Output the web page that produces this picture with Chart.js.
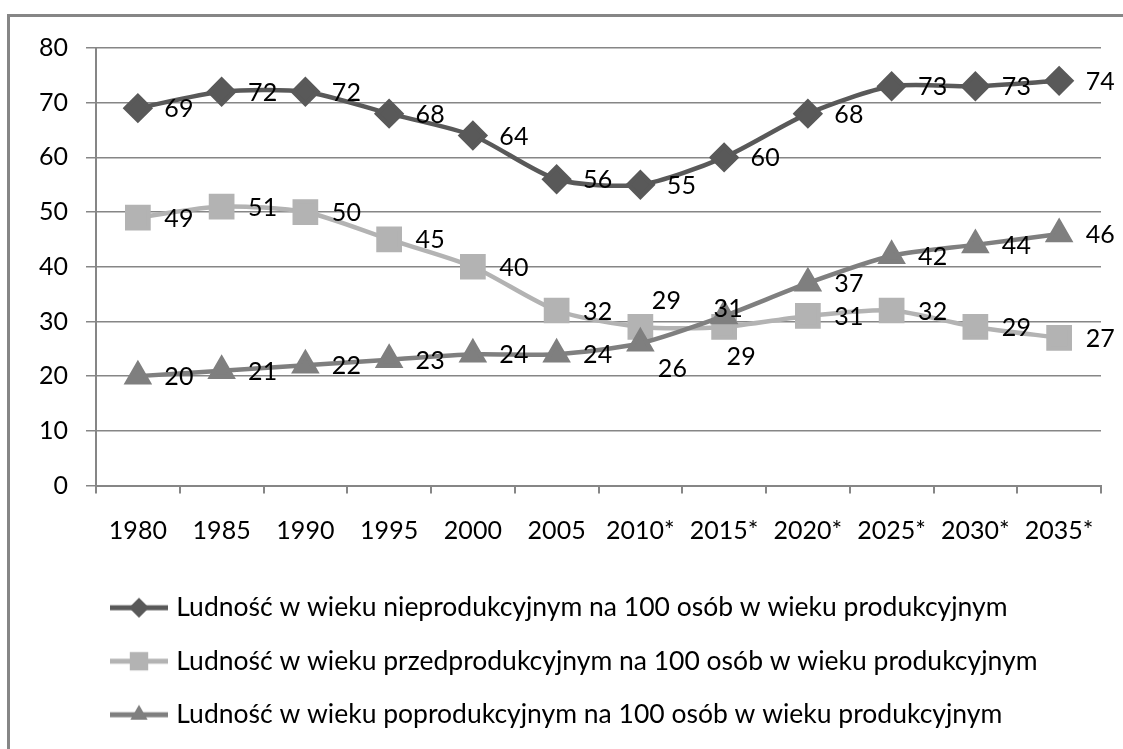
<!DOCTYPE html>
<html lang="pl">
<head>
<meta charset="utf-8">
<title>Ludność w wieku nieprodukcyjnym</title>
<script src="https://cdn.jsdelivr.net/npm/chart.js@4.4.1/dist/chart.umd.min.js"></script>
<style>
  html, body { margin: 0; padding: 0; background: #fff; }
  #wrap { position: relative; width: 1123px; height: 749px; overflow: hidden; }
  #ramka { position: absolute; left: 7px; top: 14px; width: 1200px; height: 800px; border: 3px solid #868686; box-sizing: border-box; }
  #wykres { position: absolute; left: 0; top: 0; }
</style>
</head>
<body>
<div id="wrap">
  <div id="ramka"></div>
  <canvas id="wykres" width="1123" height="749"></canvas>
</div>
<script>
// Dane
const lata = ['1980', '1985', '1990', '1995', '2000', '2005', '2010*', '2015*', '2020*', '2025*', '2030*', '2035*'];
const nieprodukcyjny = [69, 72, 72, 68, 64, 56, 55, 60, 68, 73, 73, 74];
const przedprodukcyjny = [49, 51, 50, 45, 40, 32, 29, 29, 31, 32, 29, 27];
const poprodukcyjny = [20, 21, 22, 23, 24, 24, 26, 31, 37, 42, 44, 46];
const etykietyY = [0, 10, 20, 30, 40, 50, 60, 70, 80];

const nazwy = [
  'Ludność w wieku nieprodukcyjnym na 100 osób w wieku produkcyjnym',
  'Ludność w wieku przedprodukcyjnym na 100 osób w wieku produkcyjnym',
  'Ludność w wieku poprodukcyjnym na 100 osób w wieku produkcyjnym'
];

const CZCIONKA = 'Lato';
const SZARY = '#868686';

/**
 * Mała ikonka do legendy: linia z markerem pośrodku.
 */
const ikonaLegendy = (kolor, styl, promien) => {
  const c = document.createElement('canvas');
  c.width = 58;
  c.height = 26;
  const g = c.getContext('2d');
  g.strokeStyle = kolor;
  g.lineWidth = 5;
  g.beginPath();
  g.moveTo(0, 13);
  g.lineTo(58, 13);
  g.stroke();
  g.fillStyle = kolor;
  Chart.helpers.drawPoint(g, { pointStyle: styl, radius: promien, borderWidth: 0, rotation: 0 }, 29, 13);
  return c;
};

// Podpisy wartości obok punktów
const etykietyPunktow = {
  id: 'etykietyPunktow',
  afterDatasetsDraw(chart, args, opts) {
    const ctx = chart.ctx;
    ctx.save();
    ctx.font = `25px ${CZCIONKA}`;
    ctx.fillStyle = '#000';
    ctx.textAlign = 'center';
    ctx.textBaseline = 'middle';
    chart.data.datasets.forEach((ds, i) => {
      chart.getDatasetMeta(i).data.forEach((pt, j) => {
        const [dx, dy] = opts.wyjatki[i + ':' + j] || opts.domyslne;
        ctx.fillText(String(ds.data[j]), pt.x + dx, pt.y + dy);
      });
    });
    ctx.restore();
  }
};

// Legenda wyrównana do lewej, jak w oryginale
const przesunLegende = {
  id: 'przesunLegende',
  afterLayout(chart, args, opts) {
    if (chart.legend) chart.legend.left = opts.lewo;
  }
};

Chart.defaults.font.family = CZCIONKA;
Chart.defaults.font.size = 25;
Chart.defaults.color = '#000';

const ctx = document.getElementById('wykres').getContext('2d');

const wykres = new Chart(ctx, {
  type: 'line',
  data: {
    labels: lata,
    datasets: [
      {
        label: nazwy[0],
        data: nieprodukcyjny,
        borderColor: '#595959',
        backgroundColor: '#595959',
        borderWidth: 4.5,
        pointStyle: 'rectRot',
        pointRadius: 12,
        pointHoverRadius: 12,
        tension: 0.25,
        order: 3
      },
      {
        label: nazwy[1],
        data: przedprodukcyjny,
        borderColor: '#b3b3b3',
        backgroundColor: '#b3b3b3',
        borderWidth: 4.5,
        pointStyle: 'rect',
        pointRadius: 15,
        pointHoverRadius: 15,
        tension: 0.25,
        order: 2
      },
      {
        label: nazwy[2],
        data: poprodukcyjny,
        borderColor: '#7f7f7f',
        backgroundColor: '#7f7f7f',
        borderWidth: 4.5,
        pointStyle: 'triangle',
        pointRadius: 12,
        pointHoverRadius: 12,
        tension: 0.25,
        order: 1
      }
    ]
  },
  options: {
    responsive: false,
    animation: false,
    layout: {
      padding: { left: 0, right: 22, top: 48, bottom: 11 }
    },
    scales: {
      x: {
        offset: true,
        grid: {
          offset: true,
          drawOnChartArea: false,
          drawTicks: true,
          tickLength: 8,
          color: SZARY,
          lineWidth: 2
        },
        border: { color: SZARY, width: 2 },
        ticks: { padding: 22, maxRotation: 0, autoSkip: false },
        afterFit: (scale) => { scale.height = 82; }
      },
      y: {
        min: 0,
        max: 80,
        afterBuildTicks: (scale) => { scale.ticks = etykietyY.map(v => ({ value: v })); },
        grid: {
          color: SZARY,
          lineWidth: 1.5,
          drawTicks: true,
          tickLength: 10
        },
        border: { color: SZARY, width: 2 },
        ticks: { padding: 18 },
        afterFit: (scale) => { scale.width = 96; }
      }
    },
    plugins: {
      tooltip: { enabled: false },
      legend: {
        position: 'bottom',
        align: 'start',
        labels: {
          usePointStyle: true,
          pointStyleWidth: 48,
          padding: 27,
          font: { size: 26.5 },
          generateLabels: (chart) => chart.data.datasets.map((ds, i) => ({
            text: ds.label,
            fillStyle: ds.borderColor,
            strokeStyle: ds.borderColor,
            lineWidth: 0,
            pointStyle: ikonaLegendy(ds.borderColor, ds.pointStyle, i === 1 ? 13 : 10),
            hidden: !chart.isDatasetVisible(i),
            datasetIndex: i,
            fontColor: '#000'
          }))
        }
      },
      przesunLegende: { lewo: 88 },
      etykietyPunktow: {
        domyslne: [41, 1],
        wyjatki: {
          '1:6': [26, -26],
          '1:7': [17, 30],
          '2:6': [32, 26],
          '2:7': [4, -7]
        }
      }
    }
  },
  plugins: [etykietyPunktow, przesunLegende]
});
</script>
</body>
</html>
